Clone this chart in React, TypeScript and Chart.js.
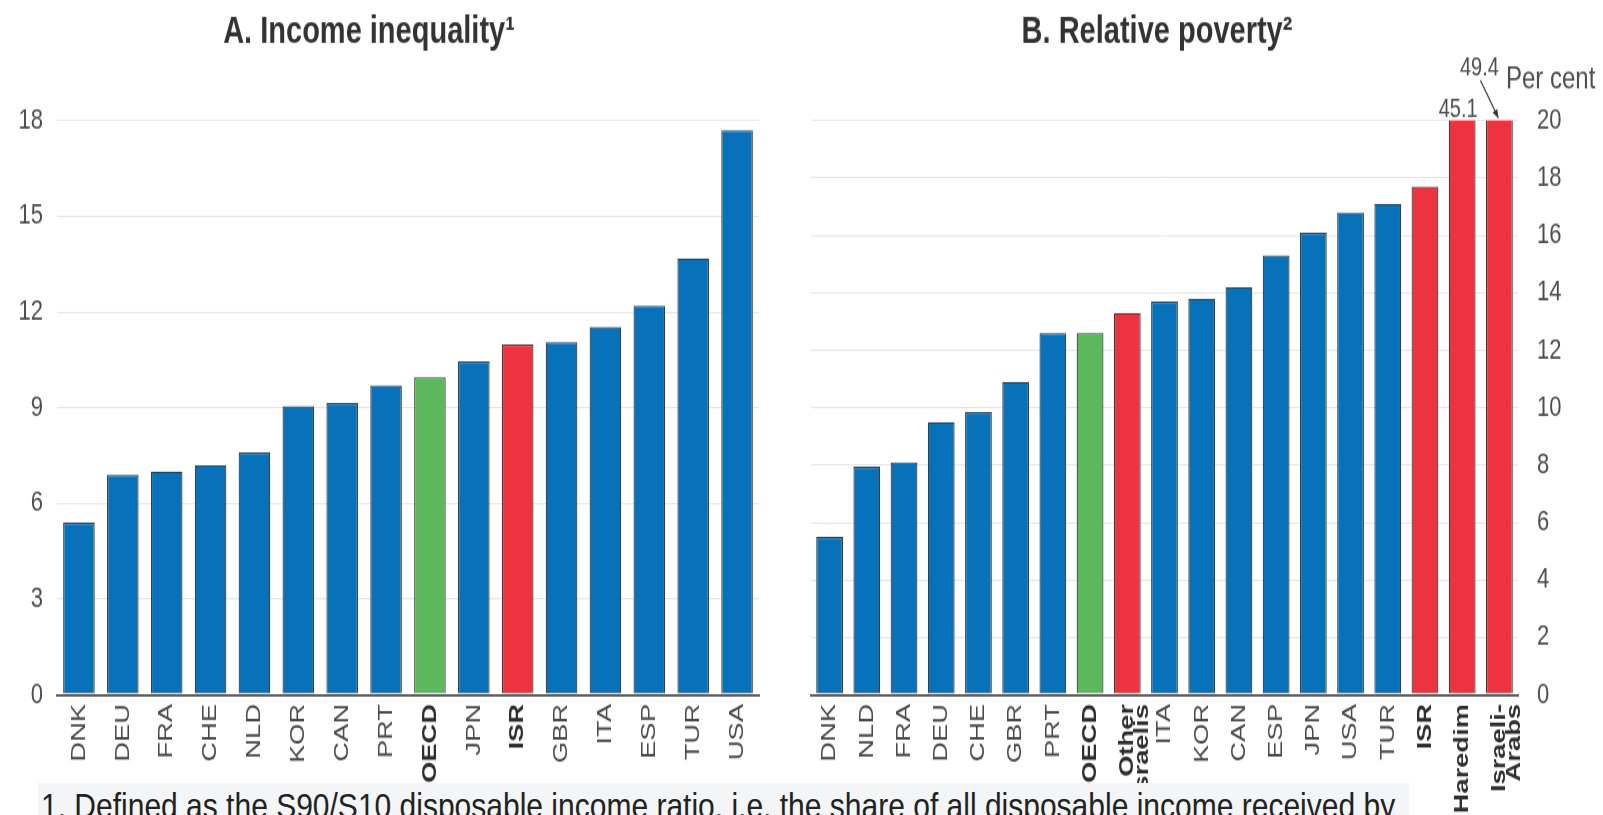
import React, { useEffect, useRef } from 'react';
import { Chart, registerables } from 'chart.js';

Chart.register(...registerables);

// ---------- data ----------
const incomeCategories = ['DNK', 'DEU', 'FRA', 'CHE', 'NLD', 'KOR', 'CAN', 'PRT', 'OECD', 'JPN', 'ISR', 'GBR', 'ITA', 'ESP', 'TUR', 'USA'];
const incomeValues = [5.4, 6.9, 7.0, 7.2, 7.6, 9.05, 9.15, 9.7, 9.95, 10.45, 10.98, 11.05, 11.53, 12.2, 13.68, 17.7];
const incomeTicks = [0, 3, 6, 9, 12, 15, 18];

const povertyCategories = ['DNK', 'NLD', 'FRA', 'DEU', 'CHE', 'GBR', 'PRT', 'OECD', 'Other Israelis', 'ITA', 'KOR', 'CAN', 'ESP', 'JPN', 'USA', 'TUR', 'ISR', 'Haredim', 'Israeli-Arabs'];
const povertyLabels: (string | string[])[] = ['DNK', 'NLD', 'FRA', 'DEU', 'CHE', 'GBR', 'PRT', 'OECD', ['Other', 'Israelis'], 'ITA', 'KOR', 'CAN', 'ESP', 'JPN', 'USA', 'TUR', 'ISR', 'Haredim', ['Israeli-', 'Arabs']];
const povertyValues = [5.5, 7.95, 8.1, 9.5, 9.85, 10.9, 12.6, 12.6, 13.3, 13.7, 13.8, 14.2, 15.3, 16.1, 16.8, 17.1, 17.7, 45.1, 49.4];
const povertyTicks = [0, 2, 4, 6, 8, 10, 12, 14, 16, 18, 20];

const oecdNames = ['OECD'];
const israelNames = ['ISR', 'Other Israelis', 'Haredim', 'Israeli-Arabs'];

const titleA = 'A. Income inequality\u00B9';
const titleB = 'B. Relative poverty\u00B2';
const unitLabel = 'Per cent';
const footnote = '1. Defined as the S90/S10 disposable income ratio, i.e. the share of all disposable income received by';

// ---------- style ----------
const FONT = '"Liberation Sans", Arial, Helvetica, sans-serif';
const STRETCH = 1.3;
const CSS_H = 815;
const H = Math.round(CSS_H / STRETCH);
const TOP = 120.6 / STRETCH;
const XH = H - 695 / STRETCH;

const BLUE = '#0771b9';
const GREEN = '#5cb85c';
const RED = '#ee3340';

Chart.defaults.font.family = FONT;

function colorFor(name: string) {
  if (oecdNames.includes(name)) return GREEN;
  if (israelNames.includes(name)) return RED;
  return BLUE;
}
function isBold(name: string) {
  return oecdNames.includes(name) || israelNames.includes(name);
}

function makeConfig(opts: {
  cats: string[];
  labels: (string | string[])[];
  values: number[];
  ticks: number[];
  position: 'left' | 'right';
  padLeft: number;
  padRight: number;
  axisWidth: number;
  tickPad: number;
  draw: (chart: any) => void;
}) {
  const { cats, labels, values, ticks, position } = opts;
  return {
    type: 'bar' as const,
    data: {
      labels,
      datasets: [
        {
          data: values,
          backgroundColor: cats.map(colorFor),
          borderColor: 'rgba(40,40,40,0.9)',
          borderWidth: 1.2,
          barPercentage: 0.72,
          categoryPercentage: 1,
        },
      ],
    },
    options: {
      animation: false,
      responsive: false,
      devicePixelRatio: 1,
      events: [],
      layout: { padding: { top: TOP, left: opts.padLeft, right: opts.padRight, bottom: 0 } },
      plugins: { legend: { display: false }, tooltip: { enabled: false }, title: { display: false } },
      scales: {
        x: {
          grid: { display: false, drawTicks: false },
          border: { display: true, color: '#5e5e5e', width: 2 },
          ticks: {
            autoSkip: false,
            minRotation: 90,
            maxRotation: 90,
            padding: 7,
            font: (c: any) => ({
              size: 21,
              weight: isBold(cats[c.index]) ? 'bold' : 'normal',
              family: FONT,
              lineHeight: 0.72,
            }),
            color: (c: any) => (isBold(cats[c.index]) ? '#2e2e2e' : '#4a4a4a'),
          },
          afterFit: (s: any) => {
            s.height = XH;
          },
        },
        y: {
          position,
          min: ticks[0],
          max: ticks[ticks.length - 1],
          grid: {
            drawTicks: false,
            color: (c: any) => (c.tick && c.tick.value === 0 ? '#5e5e5e' : '#e6e6e6'),
            lineWidth: (c: any) => (c.tick && c.tick.value === 0 ? 2 : 1),
          },
          border: { display: false },
          ticks: { padding: opts.tickPad, font: { size: 22, family: FONT }, color: '#4d4d4d' },
          afterBuildTicks: (s: any) => {
            s.ticks = ticks.map((v) => ({ value: v }));
          },
          afterFit: (s: any) => {
            s.width = opts.axisWidth;
          },
        },
      },
    },
    plugins: [
      {
        id: 'extraText',
        afterDraw: (chart: any) => opts.draw(chart),
      },
    ],
  };
}

export default function App() {
  const leftRef = useRef<HTMLCanvasElement>(null);
  const rightRef = useRef<HTMLCanvasElement>(null);

  useEffect(() => {
    document.body.style.margin = '0';
    const left = new Chart(
      leftRef.current!,
      makeConfig({
        cats: incomeCategories,
        labels: incomeCategories,
        values: incomeValues,
        ticks: incomeTicks,
        position: 'left',
        padLeft: 0,
        padRight: 31,
        axisWidth: 57,
        tickPad: 14,
        draw: (chart) => {
          const ctx = chart.ctx;
          ctx.save();
          ctx.fillStyle = '#333';
          ctx.font = `bold 29px ${FONT}`;
          ctx.textAlign = 'center';
          ctx.textBaseline = 'alphabetic';
          ctx.fillText(titleA, 369, 33);
          ctx.restore();
        },
      }) as any
    );

    const right = new Chart(
      rightRef.current!,
      makeConfig({
        cats: povertyCategories,
        labels: povertyLabels,
        values: povertyValues,
        ticks: povertyTicks,
        position: 'right',
        padLeft: 21,
        padRight: 0,
        axisWidth: 85,
        tickPad: 19,
        draw: (chart) => {
          const ctx = chart.ctx;
          const xs = chart.scales.x;
          const ymax = povertyTicks[povertyTicks.length - 1];
          const top = chart.chartArea.top;
          ctx.save();
          ctx.fillStyle = '#333';
          ctx.font = `bold 29px ${FONT}`;
          ctx.textAlign = 'center';
          ctx.textBaseline = 'alphabetic';
          ctx.fillText(titleB, 367, 33);

          ctx.fillStyle = '#4d4d4d';
          ctx.font = `24px ${FONT}`;
          ctx.textAlign = 'left';
          ctx.fillText(unitLabel, 716, 68);

          // values beyond the axis maximum
          const over = povertyValues.map((v, i) => ({ v, i })).filter((d) => d.v > ymax);
          ctx.font = `20px ${FONT}`;
          ctx.textAlign = 'center';
          over.forEach((d, k) => {
            const bx = xs.getPixelForValue(d.i);
            const txt = d.v.toFixed(1);
            if (k === 0) {
              ctx.fillText(txt, bx - 4, top - 3);
            } else {
              ctx.fillText(txt, bx - 20, top - 35);
              const x0 = bx - 19, y0 = top - 31;
              const x1 = bx - 1, y1 = top - 2;
              ctx.strokeStyle = '#333';
              ctx.lineWidth = 1.2;
              ctx.beginPath();
              ctx.moveTo(x0, y0);
              ctx.lineTo(x1, y1);
              ctx.stroke();
              const ang = Math.atan2(y1 - y0, x1 - x0);
              const hl = 7;
              ctx.fillStyle = '#333';
              ctx.beginPath();
              ctx.moveTo(x1, y1);
              ctx.lineTo(x1 - hl * Math.cos(ang - 0.4), y1 - hl * Math.sin(ang - 0.4));
              ctx.lineTo(x1 - hl * Math.cos(ang + 0.4), y1 - hl * Math.sin(ang + 0.4));
              ctx.closePath();
              ctx.fill();
              ctx.fillStyle = '#4d4d4d';
            }
          });
          ctx.restore();
        },
      }) as any
    );

    return () => {
      left.destroy();
      right.destroy();
    };
  }, []);

  return (
    <div style={{ position: 'fixed', left: 0, top: 0, width: 1603, height: 815, overflow: 'hidden', background: '#fff' }}>
      <canvas
        ref={leftRef}
        width={790}
        height={H}
        style={{ position: 'absolute', left: 0, top: 0, width: '790px', height: `${CSS_H}px` }}
      />
      <canvas
        ref={rightRef}
        width={813}
        height={H}
        style={{ position: 'absolute', left: 790, top: 0, width: '813px', height: `${CSS_H}px` }}
      />
      <div style={{ position: 'absolute', left: 38, top: 783, width: 1371, height: 40, background: '#f3f5f7' }} />
      <div
        style={{
          position: 'absolute',
          left: 41,
          top: 789,
          fontFamily: FONT,
          fontSize: 30,
          lineHeight: '30px',
          color: '#222',
          whiteSpace: 'nowrap',
          transform: 'scaleY(1.15)',
          transformOrigin: 'top left',
        }}
      >
        {footnote}
      </div>
    </div>
  );
}
